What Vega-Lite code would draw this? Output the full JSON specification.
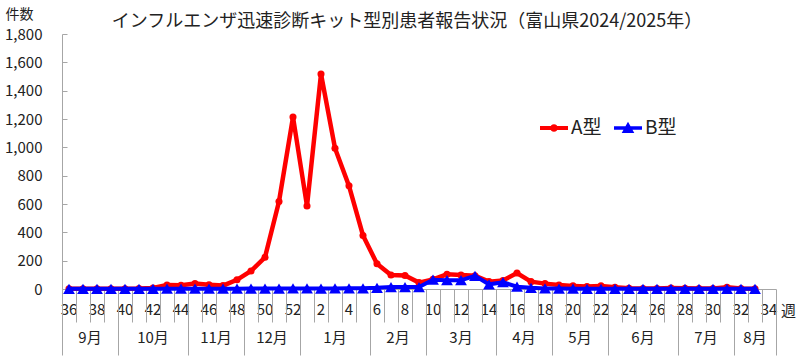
{
  "$schema": "https://vega.github.io/schema/vega-lite/v6.json",
  "width": 714,
  "height": 255,
  "autosize": {"type": "none"},
  "padding": {"left": 62, "top": 34, "right": 24, "bottom": 71},
  "background": "white",
  "config": {
    "view": {"stroke": null},
    "font": "Noto Sans CJK JP",
    "axis": {"labelFont": "Noto Sans CJK JP", "titleFont": "Noto Sans CJK JP", "labelColor": "#222", "titleColor": "#222", "grid": false}
  },
  "title": {
    "text": "インフルエンザ迅速診断キット型別患者報告状況（富山県2024/2025年）",
    "font": "Noto Sans CJK JP",
    "fontSize": 18,
    "fontWeight": "normal",
    "color": "#222",
    "anchor": "middle",
    "frame": "group",
    "dx": -12,
    "dy": 28,
    "offset": 4
  },
  "datasets": {
    "flu": [
      {"week": 36, "type": "A型", "count": 1}, {"week": 37, "type": "A型", "count": 1}, {"week": 38, "type": "A型", "count": 2}, {"week": 39, "type": "A型", "count": 2},
      {"week": 40, "type": "A型", "count": 2}, {"week": 41, "type": "A型", "count": 3}, {"week": 42, "type": "A型", "count": 7}, {"week": 43, "type": "A型", "count": 28},
      {"week": 44, "type": "A型", "count": 26}, {"week": 45, "type": "A型", "count": 38}, {"week": 46, "type": "A型", "count": 30}, {"week": 47, "type": "A型", "count": 24},
      {"week": 48, "type": "A型", "count": 65}, {"week": 49, "type": "A型", "count": 127}, {"week": 50, "type": "A型", "count": 224}, {"week": 51, "type": "A型", "count": 618},
      {"week": 52, "type": "A型", "count": 1214}, {"week": 1, "type": "A型", "count": 586}, {"week": 2, "type": "A型", "count": 1518}, {"week": 3, "type": "A型", "count": 994},
      {"week": 4, "type": "A型", "count": 728}, {"week": 5, "type": "A型", "count": 378}, {"week": 6, "type": "A型", "count": 178}, {"week": 7, "type": "A型", "count": 99},
      {"week": 8, "type": "A型", "count": 95}, {"week": 9, "type": "A型", "count": 45}, {"week": 10, "type": "A型", "count": 68}, {"week": 11, "type": "A型", "count": 104},
      {"week": 12, "type": "A型", "count": 99}, {"week": 13, "type": "A型", "count": 94}, {"week": 14, "type": "A型", "count": 52}, {"week": 15, "type": "A型", "count": 60},
      {"week": 16, "type": "A型", "count": 113}, {"week": 17, "type": "A型", "count": 52}, {"week": 18, "type": "A型", "count": 38}, {"week": 19, "type": "A型", "count": 28},
      {"week": 20, "type": "A型", "count": 22}, {"week": 21, "type": "A型", "count": 18}, {"week": 22, "type": "A型", "count": 22}, {"week": 23, "type": "A型", "count": 12},
      {"week": 24, "type": "A型", "count": 5}, {"week": 25, "type": "A型", "count": 3}, {"week": 26, "type": "A型", "count": 3}, {"week": 27, "type": "A型", "count": 7},
      {"week": 28, "type": "A型", "count": 5}, {"week": 29, "type": "A型", "count": 3}, {"week": 30, "type": "A型", "count": 3}, {"week": 31, "type": "A型", "count": 12},
      {"week": 32, "type": "A型", "count": 4}, {"week": 33, "type": "A型", "count": 2},
      {"week": 36, "type": "B型", "count": 1}, {"week": 37, "type": "B型", "count": 1}, {"week": 38, "type": "B型", "count": 1}, {"week": 39, "type": "B型", "count": 1},
      {"week": 40, "type": "B型", "count": 1}, {"week": 41, "type": "B型", "count": 1}, {"week": 42, "type": "B型", "count": 1}, {"week": 43, "type": "B型", "count": 2},
      {"week": 44, "type": "B型", "count": 2}, {"week": 45, "type": "B型", "count": 2}, {"week": 46, "type": "B型", "count": 2}, {"week": 47, "type": "B型", "count": 2},
      {"week": 48, "type": "B型", "count": 2}, {"week": 49, "type": "B型", "count": 3}, {"week": 50, "type": "B型", "count": 3}, {"week": 51, "type": "B型", "count": 3},
      {"week": 52, "type": "B型", "count": 4}, {"week": 1, "type": "B型", "count": 4}, {"week": 2, "type": "B型", "count": 3}, {"week": 3, "type": "B型", "count": 4},
      {"week": 4, "type": "B型", "count": 5}, {"week": 5, "type": "B型", "count": 5}, {"week": 6, "type": "B型", "count": 8}, {"week": 7, "type": "B型", "count": 14},
      {"week": 8, "type": "B型", "count": 14}, {"week": 9, "type": "B型", "count": 14}, {"week": 10, "type": "B型", "count": 66}, {"week": 11, "type": "B型", "count": 62},
      {"week": 12, "type": "B型", "count": 62}, {"week": 13, "type": "B型", "count": 93}, {"week": 14, "type": "B型", "count": 33}, {"week": 15, "type": "B型", "count": 48},
      {"week": 16, "type": "B型", "count": 16}, {"week": 17, "type": "B型", "count": 8}, {"week": 18, "type": "B型", "count": 4}, {"week": 19, "type": "B型", "count": 3},
      {"week": 20, "type": "B型", "count": 2}, {"week": 21, "type": "B型", "count": 1}, {"week": 22, "type": "B型", "count": 1}, {"week": 23, "type": "B型", "count": 1},
      {"week": 24, "type": "B型", "count": 1}, {"week": 25, "type": "B型", "count": 1}, {"week": 26, "type": "B型", "count": 1}, {"week": 27, "type": "B型", "count": 1},
      {"week": 28, "type": "B型", "count": 1}, {"week": 29, "type": "B型", "count": 1}, {"week": 30, "type": "B型", "count": 1}, {"week": 31, "type": "B型", "count": 1},
      {"week": 32, "type": "B型", "count": 1}, {"week": 33, "type": "B型", "count": 1}
    ]
  },
  "data": {"name": "flu"},
  "encoding": {
    "y": {
      "field": "count", "type": "quantitative",
      "scale": {"domain": [0, 1800], "nice": false, "zero": true},
      "axis": {
        "values": [0, 200, 400, 600, 800, 1000, 1200, 1400, 1600, 1800],
        "format": ",.0f", "grid": false,
        "tickSize": -5, "tickColor": "#A6A6A6", "domainColor": "#A6A6A6",
        "labelFontSize": 15, "labelPadding": 25,
        "title": "件数", "titleAngle": 0, "titleX": -57, "titleY": -20,
        "titleAlign": "left", "titleBaseline": "middle", "titleFontSize": 14, "titleFontWeight": "normal"
      }
    },
    "color": {
      "field": "type", "type": "nominal",
      "scale": {"domain": ["A型", "B型"], "range": ["#FF0000", "#0000FF"]},
      "legend": {
        "orient": "none", "legendX": 478, "legendY": 80, "direction": "horizontal",
        "title": null, "labelFontSize": 19, "labelFont": "Noto Sans CJK JP", "labelColor": "#222",
        "symbolSize": 784, "labelOffset": 3, "columnPadding": 12,
        "encode": {
          "symbols": {
            "update": {
              "shape": {"signal": "datum.value === 'A型' ? 'M-1,-0.15H1V0.15H-1Z M0.27,0A0.27,0.27 0 1 1 -0.27,0A0.27,0.27 0 1 1 0.27,0Z' : 'M-1,-0.13H1V0.13H-1Z M0,-0.45L0.45,0.35H-0.45Z'"},
              "fill": {"scale": "color", "field": "value"},
              "fillOpacity": {"value": 1},
              "strokeWidth": {"value": 0}
            }
          }
        }
      }
    }
  },
  "layer": [
    {
      "transform": [{"filter": "datum.type === 'A型'"}],
      "mark": {"type": "line", "strokeWidth": 4.5},
      "encoding": {
        "x": {
          "field": "week", "type": "ordinal",
          "scale": {"type": "band", "domain": [36,37,38,39,40,41,42,43,44,45,46,47,48,49,50,51,52,1,2,3,4,5,6,7,8,9,10,11,12,13,14,15,16,17,18,19,20,21,22,23,24,25,26,27,28,29,30,31,32,33,34], "paddingInner": 0, "paddingOuter": 0},
          "axis": {
            "orient": "bottom", "ticks": false, "domain": false, "grid": false,
            "labelExpr": "datum.value % 2 == 0 ? datum.label : ''",
            "labelOverlap": false, "labelFlush": false, "labelBound": false,
            "labelAngle": 0, "labelFontSize": 15, "labelPadding": 13,
            "title": "週", "titleAngle": 0, "titleX": 726, "titleY": 21,
            "titleAlign": "center", "titleBaseline": "middle", "titleFontSize": 15, "titleFontWeight": "normal"
          }
        }
      }
    },
    {
      "transform": [{"filter": "datum.type === 'A型'"}],
      "mark": {"type": "point", "shape": "circle", "filled": true, "size": 50, "opacity": 1},
      "encoding": {
        "x": {
          "field": "week", "type": "ordinal",
          "axis": {
            "orient": "bottom", "labels": false, "grid": false, "title": null,
            "ticks": true, "tickBand": "extent", "tickColor": "#A6A6A6", "domainColor": "#A6A6A6",
            "tickSize": {"condition": {"test": "datum.value == null || indexof([39,44,48,52,5,9,14,18,22,27,31,34], datum.value) >= 0", "value": 66}, "value": 33}
          }
        }
      }
    },
    {
      "transform": [{"filter": "datum.type === 'B型'"}],
      "mark": {"type": "line", "strokeWidth": 4},
      "encoding": {
        "x": {
          "field": "week", "type": "ordinal",
          "axis": {
            "orient": "bottom", "ticks": false, "domain": false, "grid": false, "title": null,
            "values": [37, 42, 46, 50, 3, 7, 12, 16, 20, 25, 29, 33],
            "labelExpr": "['9月','10月','11月','12月','1月','2月','3月','4月','5月','6月','7月','8月'][indexof([37,42,46,50,3,7,12,16,20,25,29,33], datum.value)]",
            "labelOffset": {"condition": {"test": "indexof([37,46,50,7,16,20,29], datum.value) >= 0", "value": 7}, "value": 0},
            "labelOverlap": false, "labelFlush": false, "labelBound": false,
            "labelAngle": 0, "labelFontSize": 15, "labelPadding": 41
          }
        }
      }
    },
    {
      "transform": [{"filter": "datum.type === 'B型'"}],
      "mark": {"type": "point", "shape": "triangle-up", "filled": true, "size": 140, "opacity": 1},
      "encoding": {
        "x": {"field": "week", "type": "ordinal", "axis": null}
      }
    }
  ],
  "resolve": {"axis": {"x": "independent"}}
}
